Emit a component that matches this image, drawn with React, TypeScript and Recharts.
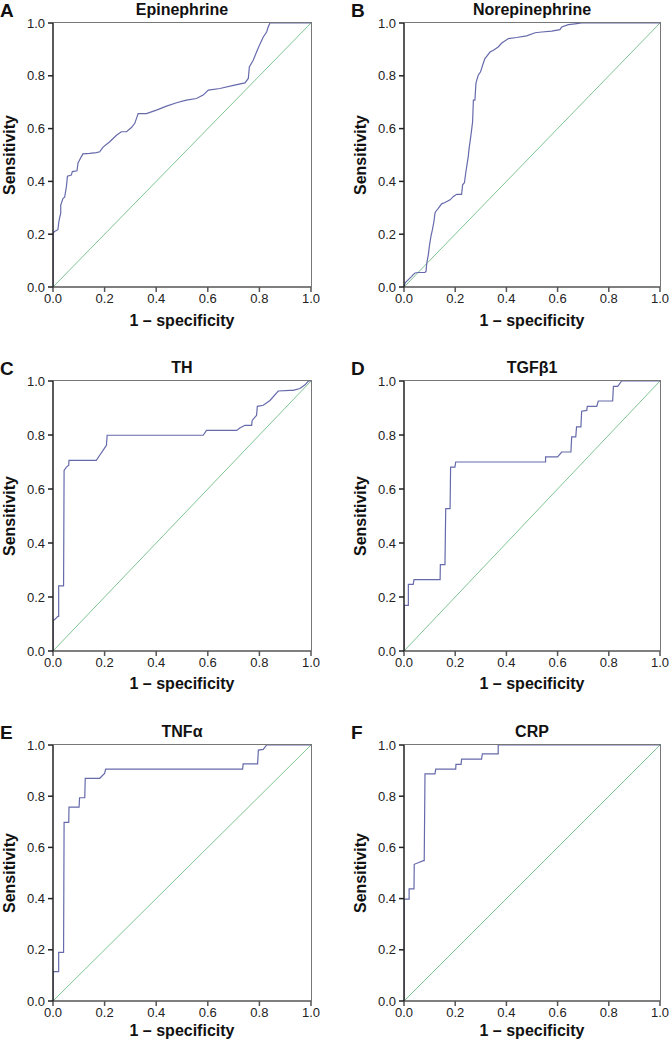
import React from 'react';
import { LineChart, Line, XAxis, YAxis } from 'recharts';

// Panel A – Epinephrine
const epiFpr = [0, 0, 0.006, 0.019, 0.023, 0.03, 0.03, 0.039, 0.045, 0.052, 0.056, 0.071, 0.075, 0.093, 0.097, 0.11, 0.116, 0.142, 0.168, 0.181, 0.194, 0.22, 0.246, 0.265, 0.285, 0.304, 0.317, 0.33, 0.362, 0.401, 0.44, 0.479, 0.517, 0.556, 0.582, 0.602, 0.647, 0.699, 0.744, 0.757, 0.761, 0.776, 0.789, 0.802, 0.815, 0.828, 0.834, 0.841, 0.854, 1];
const epiTpr = [0, 0.204, 0.21, 0.217, 0.25, 0.28, 0.31, 0.336, 0.34, 0.38, 0.42, 0.424, 0.437, 0.44, 0.47, 0.494, 0.504, 0.506, 0.509, 0.512, 0.53, 0.55, 0.575, 0.588, 0.588, 0.604, 0.62, 0.657, 0.657, 0.67, 0.685, 0.698, 0.708, 0.714, 0.727, 0.746, 0.752, 0.764, 0.773, 0.79, 0.834, 0.859, 0.89, 0.92, 0.947, 0.966, 0.985, 1, 1, 1];

// Panel B – Norepinephrine
const norFpr = [0, 0.004, 0.01, 0.017, 0.03, 0.036, 0.043, 0.056, 0.082, 0.086, 0.089, 0.095, 0.099, 0.105, 0.111, 0.117, 0.121, 0.124, 0.134, 0.147, 0.16, 0.18, 0.193, 0.206, 0.225, 0.229, 0.236, 0.241, 0.247, 0.251, 0.255, 0.258, 0.264, 0.268, 0.271, 0.277, 0.281, 0.284, 0.29, 0.299, 0.307, 0.316, 0.323, 0.336, 0.349, 0.368, 0.382, 0.408, 0.44, 0.479, 0.512, 0.538, 0.577, 0.609, 0.616, 0.642, 0.668, 0.694, 1];
const norTpr = [0, 0.015, 0.021, 0.028, 0.04, 0.047, 0.053, 0.055, 0.055, 0.059, 0.091, 0.122, 0.154, 0.191, 0.217, 0.248, 0.28, 0.286, 0.298, 0.315, 0.32, 0.33, 0.343, 0.351, 0.351, 0.387, 0.395, 0.431, 0.469, 0.494, 0.531, 0.55, 0.594, 0.626, 0.708, 0.708, 0.771, 0.783, 0.802, 0.815, 0.84, 0.865, 0.874, 0.89, 0.897, 0.909, 0.924, 0.941, 0.945, 0.951, 0.963, 0.966, 0.969, 0.975, 0.985, 0.994, 0.997, 1, 1];

// Panel C – TH
const thFpr = [0, 0, 0.006, 0.019, 0.022, 0.022, 0.041, 0.043, 0.052, 0.061, 0.062, 0.168, 0.181, 0.194, 0.207, 0.21, 0.582, 0.595, 0.712, 0.724, 0.744, 0.77, 0.772, 0.789, 0.792, 0.815, 0.841, 0.873, 0.918, 0.931, 0.957, 0.977, 0.99, 1];
const thTpr = [0, 0.114, 0.116, 0.128, 0.128, 0.241, 0.241, 0.669, 0.681, 0.688, 0.706, 0.706, 0.725, 0.743, 0.762, 0.799, 0.799, 0.817, 0.817, 0.826, 0.836, 0.836, 0.854, 0.873, 0.906, 0.91, 0.928, 0.963, 0.965, 0.965, 0.972, 0.986, 1, 1];

// Panel D – TGFβ1
const tgfFpr = [0, 0, 0.017, 0.017, 0.036, 0.039, 0.141, 0.142, 0.16, 0.163, 0.18, 0.182, 0.199, 0.202, 0.553, 0.553, 0.6, 0.616, 0.652, 0.655, 0.671, 0.674, 0.691, 0.694, 0.714, 0.716, 0.753, 0.759, 0.815, 0.818, 0.835, 0.85, 1];
const tgfTpr = [0, 0.169, 0.169, 0.247, 0.247, 0.264, 0.264, 0.32, 0.32, 0.527, 0.527, 0.681, 0.681, 0.7, 0.7, 0.719, 0.719, 0.737, 0.737, 0.793, 0.793, 0.83, 0.83, 0.888, 0.891, 0.906, 0.906, 0.926, 0.926, 0.98, 0.98, 1, 1];

// Panel E – TNFα
const tnfFpr = [0, 0, 0.022, 0.022, 0.041, 0.043, 0.061, 0.062, 0.101, 0.103, 0.123, 0.125, 0.181, 0.2, 0.204, 0.735, 0.737, 0.793, 0.796, 0.815, 0.828, 1];
const tnfTpr = [0, 0.115, 0.115, 0.19, 0.19, 0.698, 0.698, 0.757, 0.757, 0.794, 0.794, 0.87, 0.87, 0.889, 0.906, 0.906, 0.926, 0.926, 0.98, 0.983, 1, 1];

// Panel F – CRP
const crpFpr = [0, 0, 0.02, 0.02, 0.039, 0.04, 0.076, 0.079, 0.082, 0.121, 0.124, 0.202, 0.203, 0.223, 0.225, 0.303, 0.306, 0.368, 0.368, 1];
const crpTpr = [0, 0.398, 0.398, 0.438, 0.438, 0.534, 0.548, 0.548, 0.887, 0.887, 0.906, 0.906, 0.924, 0.924, 0.945, 0.945, 0.965, 0.965, 1, 1];

const refFpr = [0, 1];
const refTpr = [0, 1];

const axisTicks = [0, 0.2, 0.4, 0.6, 0.8, 1.0];
const xAxisTitle = '1 – specificity';
const yAxisTitle = 'Sensitivity';

const FONT = '"Liberation Sans", Arial, Helvetica, sans-serif';
const CURVE = '#666aab';
const DIAG = '#7fc492';

const zip = (xs: number[], ys: number[]) => xs.map((x, i) => ({ x, y: ys[i] }));

type PanelProps = {
  letter: string;
  title: string;
  fpr: number[];
  tpr: number[];
  px0: number;
  px1: number;
  py0: number;
  py1: number;
  xLabelGap: number;
};

const ML = 8;
const YW = 45;
const MT = 23;
const MR = 10;
const XH = 45;

function Panel({ letter, title, fpr, tpr, px0, px1, py0, py1, xLabelGap }: PanelProps) {
  const left = px0 - ML - YW;
  const top = py0 - MT;
  const width = px1 - px0 + ML + YW + MR;
  const height = py1 - py0 + MT + XH;
  const data = zip(fpr, tpr);
  const diag = zip(refFpr, refTpr);
  const tickStyle = { fontSize: 13, fill: '#222', fontFamily: FONT };
  return (
    <>
      <div
        style={{
          position: 'absolute',
          left: left < 0 ? 0 : left,
          top: py0 - 23,
          fontFamily: FONT,
          fontWeight: 'bold',
          fontSize: 19,
          lineHeight: '22px',
          color: '#111',
        }}
      >
        {letter}
      </div>
      <div
        style={{
          position: 'absolute',
          left: px0,
          width: px1 - px0,
          top: py0 - 23,
          textAlign: 'center',
          fontFamily: FONT,
          fontWeight: 'bold',
          fontSize: 16,
          lineHeight: '20px',
          color: '#111',
        }}
      >
        {title}
      </div>
      {/* plot frame (top and right edges), sits underneath the chart svg */}
      <div
        style={{
          position: 'absolute',
          left: px0,
          top: py0 - 1,
          width: px1 - px0 + 1,
          height: py1 - py0 + 1,
          boxSizing: 'border-box',
          borderTop: '1.5px solid #777',
          borderRight: '1.5px solid #777',
        }}
      />
      <div style={{ position: 'absolute', left, top, width, height }}>
        <LineChart
          width={width}
          height={height}
          data={data}
          margin={{ top: MT, right: MR, bottom: 0, left: ML }}
        >
          <XAxis
            dataKey="x"
            type="number"
            domain={[0, 1]}
            ticks={axisTicks}
            tickFormatter={(v: number) => v.toFixed(1)}
            height={XH}
            tickSize={5}
            tickMargin={2}
            stroke="#555"
            strokeWidth={1.5}
            tick={tickStyle}
            allowDataOverflow
            label={{
              value: xAxisTitle,
              position: 'insideBottom',
              offset: XH - xLabelGap,
              style: { fontFamily: FONT, fontWeight: 'bold', fontSize: 16, fill: '#111' },
            }}
          />
          <YAxis
            dataKey="y"
            type="number"
            domain={[0, 1]}
            ticks={axisTicks}
            tickFormatter={(v: number) => v.toFixed(1)}
            width={YW}
            tickSize={5}
            tickMargin={3}
            stroke="#222"
            strokeWidth={1.5}
            tick={tickStyle}
            allowDataOverflow
            label={{
              value: yAxisTitle,
              angle: -90,
              position: 'insideLeft',
              offset: 1,
              style: { fontFamily: FONT, fontWeight: 'bold', fontSize: 16, fill: '#111', textAnchor: 'middle' },
            }}
          />
          <Line
            data={diag}
            dataKey="y"
            type="linear"
            stroke={DIAG}
            strokeWidth={1}
            dot={false}
            activeDot={false}
            isAnimationActive={false}
          />
          <Line
            dataKey="y"
            type="linear"
            stroke={CURVE}
            strokeWidth={1.2}
            dot={false}
            activeDot={false}
            isAnimationActive={false}
          />
        </LineChart>
      </div>
    </>
  );
}

export default function App() {
  return (
    <div
      style={{
        position: 'absolute',
        left: 0,
        top: 0,
        width: 670,
        height: 1044,
        overflow: 'hidden',
        background: '#fff',
      }}
    >
      <Panel letter="A" title="Epinephrine" fpr={epiFpr} tpr={epiTpr} px0={53} px1={311} py0={23} py1={287} xLabelGap={39} />
      <Panel letter="B" title="Norepinephrine" fpr={norFpr} tpr={norTpr} px0={404} px1={660} py0={23} py1={287} xLabelGap={39} />
      <Panel letter="C" title="TH" fpr={thFpr} tpr={thTpr} px0={53} px1={311} py0={381} py1={651} xLabelGap={38} />
      <Panel letter="D" title="TGFβ1" fpr={tgfFpr} tpr={tgfTpr} px0={404} px1={660} py0={381} py1={651} xLabelGap={38} />
      <Panel letter="E" title="TNFα" fpr={tnfFpr} tpr={tnfTpr} px0={53} px1={311} py0={745} py1={1001} xLabelGap={35} />
      <Panel letter="F" title="CRP" fpr={crpFpr} tpr={crpTpr} px0={404} px1={660} py0={745} py1={1001} xLabelGap={35} />
    </div>
  );
}
